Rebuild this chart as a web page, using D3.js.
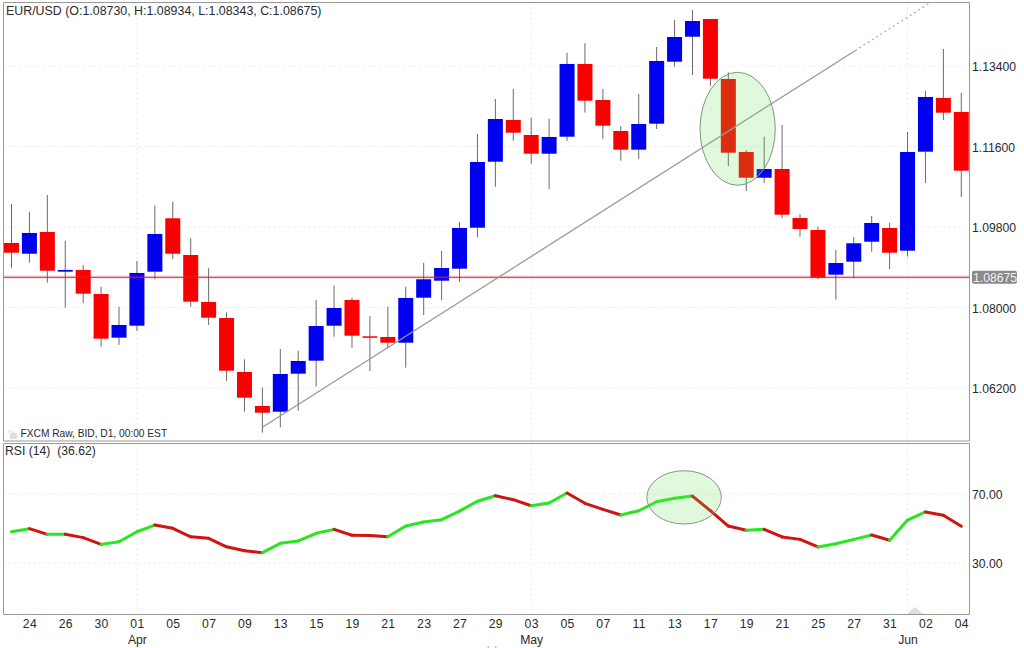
<!DOCTYPE html>
<html>
<head>
<meta charset="utf-8">
<script src="https://cdn.jsdelivr.net/npm/d3@7"></script>
<style>
html, body { margin: 0; padding: 0; background: #fff; }
svg { display: block; }
text { font-family: "Liberation Sans", Arial, sans-serif; font-size: 12px; fill: #2a2a2a; white-space: pre; }
</style>
</head>
<body>
<svg id="chart" width="1024" height="648"></svg>
<script>
// daily candles
var opens = [1.09442,1.09203,1.09688,1.08801,1.08839,1.08302,1.07325,1.07593,1.08801,1.09995,1.09174,1.08123,1.07765,1.06558,1.05798,1.05670,1.06520,1.06811,1.07593,1.08168,1.07356,1.07341,1.07213,1.08219,1.08599,1.08868,1.09784,1.11260,1.12193,1.11857,1.11439,1.11819,1.13445,1.12640,1.11947,1.11529,1.12110,1.13496,1.14055,1.14451,1.13109,1.11477,1.10902,1.11097,1.10001,1.09733,1.08734,1.09024,1.09471,1.09778,1.09270,1.11484,1.12685,1.12372];
var closes = [1.09225,1.09666,1.08823,1.08839,1.08309,1.07303,1.07609,1.08772,1.09644,1.09203,1.08130,1.07772,1.06587,1.05983,1.05648,1.06513,1.06804,1.07586,1.07989,1.07370,1.07325,1.07213,1.08213,1.08631,1.08883,1.09778,1.11254,1.12215,1.11909,1.11439,1.11813,1.13445,1.12624,1.12065,1.11529,1.12103,1.13512,1.14049,1.14406,1.13116,1.11461,1.10902,1.11097,1.10075,1.09755,1.08666,1.08995,1.09436,1.09890,1.09225,1.11477,1.12707,1.12356,1.11059];
var highs = [1.10314,1.10142,1.10516,1.09494,1.08950,1.08465,1.08018,1.09040,1.10276,1.10366,1.09547,1.08877,1.07893,1.06842,1.06207,1.07072,1.07034,1.08168,1.08488,1.08219,1.07810,1.08018,1.08465,1.09002,1.09263,1.09912,1.11880,1.12662,1.12886,1.12244,1.12222,1.13697,1.13908,1.12886,1.12058,1.12774,1.13825,1.14429,1.14652,1.14451,1.13259,1.11522,1.11819,1.12081,1.10084,1.09807,1.09286,1.09577,1.10046,1.09896,1.11924,1.12848,1.13780,1.12796];
var lows = [1.08890,1.09002,1.08555,1.07996,1.08094,1.07124,1.07162,1.07475,1.08631,1.09085,1.08018,1.07609,1.06357,1.05670,1.05201,1.05321,1.05693,1.06229,1.07347,1.07101,1.06580,1.07088,1.06654,1.07832,1.08168,1.08570,1.09570,1.10701,1.11730,1.11216,1.10650,1.11723,1.12356,1.11775,1.11283,1.11321,1.11991,1.13384,1.13199,1.12953,1.11164,1.10605,1.10784,1.09995,1.09583,1.08631,1.08175,1.08653,1.09248,1.08861,1.09136,1.10784,1.12193,1.10471];
var rsi = [48.1,49.9,46.6,46.7,44.7,40.8,42.3,48.1,52.0,50.1,45.2,44.3,39.4,37.1,36.0,41.4,42.8,47.2,49.5,46.1,46.0,45.2,51.4,53.8,55.1,60.1,65.8,69.0,66.7,63.2,64.8,70.6,64.6,61.1,57.8,60.3,65.5,67.5,68.8,60.3,51.4,49.0,49.5,45.1,43.7,39.3,41.2,43.7,46.2,43.2,54.9,59.6,57.7,51.3];

var dayLabels = ['24','26','30','01','05','07','09','13','15','19','21','23','27','29','03','05','07','11','13','17','19','21','25','27','31','02','04'];
var monthLabels = ['Apr','May','Jun'];
var monthIndex = [7,29,50];
var priceTicks = [1.134,1.116,1.098,1.08,1.062];
var rsiTicks = [70,30];
var lastPrice = 1.08675;

// annotations in data units: [index, price]
var trendLine = [[14,1.05321],[47.07,1.13742]];
var trendDotted = [[47.07,1.13742],[51.26,1.14815]];
var priceOval = [38.42,42.62,1.13259,1.10733];
var rsiOval = [35.45,39.61,83.5,52.6];

var svg = d3.select('#chart');

var x = d3.scaleLinear().domain([0,53]).range([11.5,961.3]);
var yPrice = d3.scaleLinear().domain([1.134,1.062]).range([66,388]);
var yRsi = d3.scaleLinear().domain([70,30]).range([494,563]);

var left = 3.5, right = 969.5, top1 = 2.5, bot1 = 441, top2 = 443.5, bot2 = 614.5;
var bodyW = 15;

var add_grid = function(g, scale, ticks, y0, y1) {
    g.selectAll('line.h').data(ticks).enter().append('line')
        .attr('class','h')
        .attr('x1',left).attr('x2',right)
        .attr('y1',function(d){ return scale(d); })
        .attr('y2',function(d){ return scale(d); });
    g.selectAll('line.v').data(monthIndex).enter().append('line')
        .attr('class','v')
        .attr('x1',function(d){ return x(d); })
        .attr('x2',function(d){ return x(d); })
        .attr('y1',y0).attr('y2',y1);
    g.selectAll('line').attr('stroke','#e8e8e8').attr('stroke-dasharray','2,3');
};

add_grid(svg.append('g'), yPrice, priceTicks, top1, bot1);
add_grid(svg.append('g'), yRsi, rsiTicks, top2, bot2);

// wicks
svg.append('g').selectAll('line').data(d3.range(opens.length)).enter().append('line')
    .attr('x1',function(i){ return x(i); })
    .attr('x2',function(i){ return x(i); })
    .attr('y1',function(i){ return yPrice(highs[i]); })
    .attr('y2',function(i){ return yPrice(lows[i]); })
    .attr('stroke','#6a6a6a').attr('stroke-width',1);

// bodies
svg.append('g').selectAll('rect').data(d3.range(opens.length)).enter().append('rect')
    .attr('x',function(i){ return x(i) - bodyW/2; })
    .attr('width',bodyW)
    .attr('y',function(i){ return yPrice(Math.max(opens[i],closes[i])); })
    .attr('height',function(i){ return Math.max(1.5, Math.abs(yPrice(opens[i]) - yPrice(closes[i]))); })
    .attr('fill',function(i){ return closes[i] >= opens[i] ? '#0000f0' : '#fa0000'; });

// last price line
svg.append('line').attr('x1',left).attr('x2',right)
    .attr('y1',yPrice(lastPrice)).attr('y2',yPrice(lastPrice))
    .attr('stroke','rgba(255,60,60,0.12)').attr('stroke-width',4);
svg.append('line').attr('x1',left).attr('x2',right)
    .attr('y1',yPrice(lastPrice)).attr('y2',yPrice(lastPrice))
    .attr('stroke','#c2222c').attr('stroke-width',1.1);

// trend line
var line = d3.line().x(function(d){ return x(d[0]); }).y(function(d){ return yPrice(d[1]); });
svg.append('path').attr('d',line(trendLine)).attr('fill','none').attr('stroke','#999').attr('stroke-width',1.3);
svg.append('path').attr('d',line(trendDotted)).attr('fill','none').attr('stroke','#aaa').attr('stroke-width',1.2).attr('stroke-dasharray','2,3');

// RSI, green on the way up and red on the way down
svg.append('g').selectAll('line').data(d3.range(rsi.length - 1)).enter().append('line')
    .attr('x1',function(i){ return x(i); })
    .attr('x2',function(i){ return x(i+1); })
    .attr('y1',function(i){ return yRsi(rsi[i]); })
    .attr('y2',function(i){ return yRsi(rsi[i+1]); })
    .attr('stroke',function(i){ return rsi[i+1] >= rsi[i] ? '#2ae622' : '#cf1414'; })
    .attr('stroke-width',3).attr('stroke-linecap','round');

// hand drawn ovals
var add_oval = function(o, scale) {
    svg.append('ellipse')
        .attr('cx',(x(o[0]) + x(o[1]))/2)
        .attr('cy',(scale(o[2]) + scale(o[3]))/2)
        .attr('rx',(x(o[1]) - x(o[0]))/2)
        .attr('ry',(scale(o[3]) - scale(o[2]))/2)
        .attr('fill','rgba(100,225,80,0.2)')
        .attr('stroke','#7f9a80').attr('stroke-width',1);
};
add_oval(priceOval, yPrice);
add_oval(rsiOval, yRsi);

// frames
svg.append('path').attr('fill','none').attr('stroke','#999').attr('stroke-width',1)
    .attr('d','M'+left+','+bot1+'V'+top1+'H'+right+'V'+bot1+'H'+left
        +'M'+left+','+top2+'V'+bot2+'H'+right+'V'+top2+'H'+left);

// axes
var xAxis = d3.axisBottom(x).tickValues(dayLabels.map(function(d,i){ return 1 + i*2; }))
    .tickSize(0).tickPadding(0)
    .tickFormat(function(d,i){ return dayLabels[i]; });
var gx = svg.append('g').attr('transform','translate(0,'+(bot2+4.5)+')').call(xAxis);
gx.select('.domain').remove();
gx.selectAll('text').attr('dy','0.71em').style('letter-spacing','0.3px');

var monthAxis = d3.axisBottom(x).tickValues(monthIndex).tickSize(0).tickPadding(0)
    .tickFormat(function(d,i){ return monthLabels[i]; });
var gm = svg.append('g').attr('transform','translate(0,'+(bot2+20.5)+')').call(monthAxis);
gm.select('.domain').remove();
gm.selectAll('text').attr('dy','0.71em');

var pAxis = d3.axisRight(yPrice).tickValues(priceTicks).tickSize(0).tickPadding(0)
    .tickFormat(function(d){ return d.toFixed(5); });
var gp = svg.append('g').attr('transform','translate(972,1)').call(pAxis);
gp.select('.domain').remove();

var rAxis = d3.axisRight(yRsi).tickValues(rsiTicks).tickSize(0).tickPadding(0)
    .tickFormat(function(d){ return d.toFixed(2); });
var gr = svg.append('g').attr('transform','translate(972,1)').call(rAxis);
gr.select('.domain').remove();

svg.selectAll('.tick text').style('font-family','"Liberation Sans", Arial, sans-serif').style('font-size','12.2px').style('fill','#2a2a2a');

// last price tag
svg.append('rect').attr('x',972).attr('y',yPrice(lastPrice) - 6.5).attr('width',45).attr('height',13).attr('rx',2).attr('fill','#8a8a8a');
svg.append('text').attr('x',973).attr('y',yPrice(lastPrice) + 0.5).attr('dy','0.35em').style('fill','#f2f2f2').style('font-size','12.2px').text(lastPrice.toFixed(5));

// captions
svg.append('text').attr('x',6).attr('y',14.5).style('font-size','12.4px').text('EUR/USD (O:1.08730, H:1.08934, L:1.08343, C:1.08675)');
svg.append('text').attr('x',20.5).attr('y',437).style('font-size','10.2px').text('FXCM Raw, BID, D1, 00:00 EST');
svg.append('text').attr('x',5).attr('y',455).style('font-size','12.2px').text('RSI (14)  (36.62)');

// lock icon in the corner of the price panel
svg.append('rect').attr('x',10).attr('y',433).attr('width',7).attr('height',6).attr('fill','#ddd');
svg.append('path').attr('d','M8,433a2.5,2.5 0 0 1 5,0').attr('fill','none').attr('stroke','#ddd');

// little marker on the RSI panel floor
svg.append('path').attr('d','M907,614L915,607L923,614Z').attr('fill','#ddd');

// specks at the lower edge of the picture
svg.append('path').attr('d','M488,648q0,-1.5 1,-2M496,648q0,-1.5 -1,-2').attr('fill','none').attr('stroke','#aaa');
</script>
</body>
</html>
